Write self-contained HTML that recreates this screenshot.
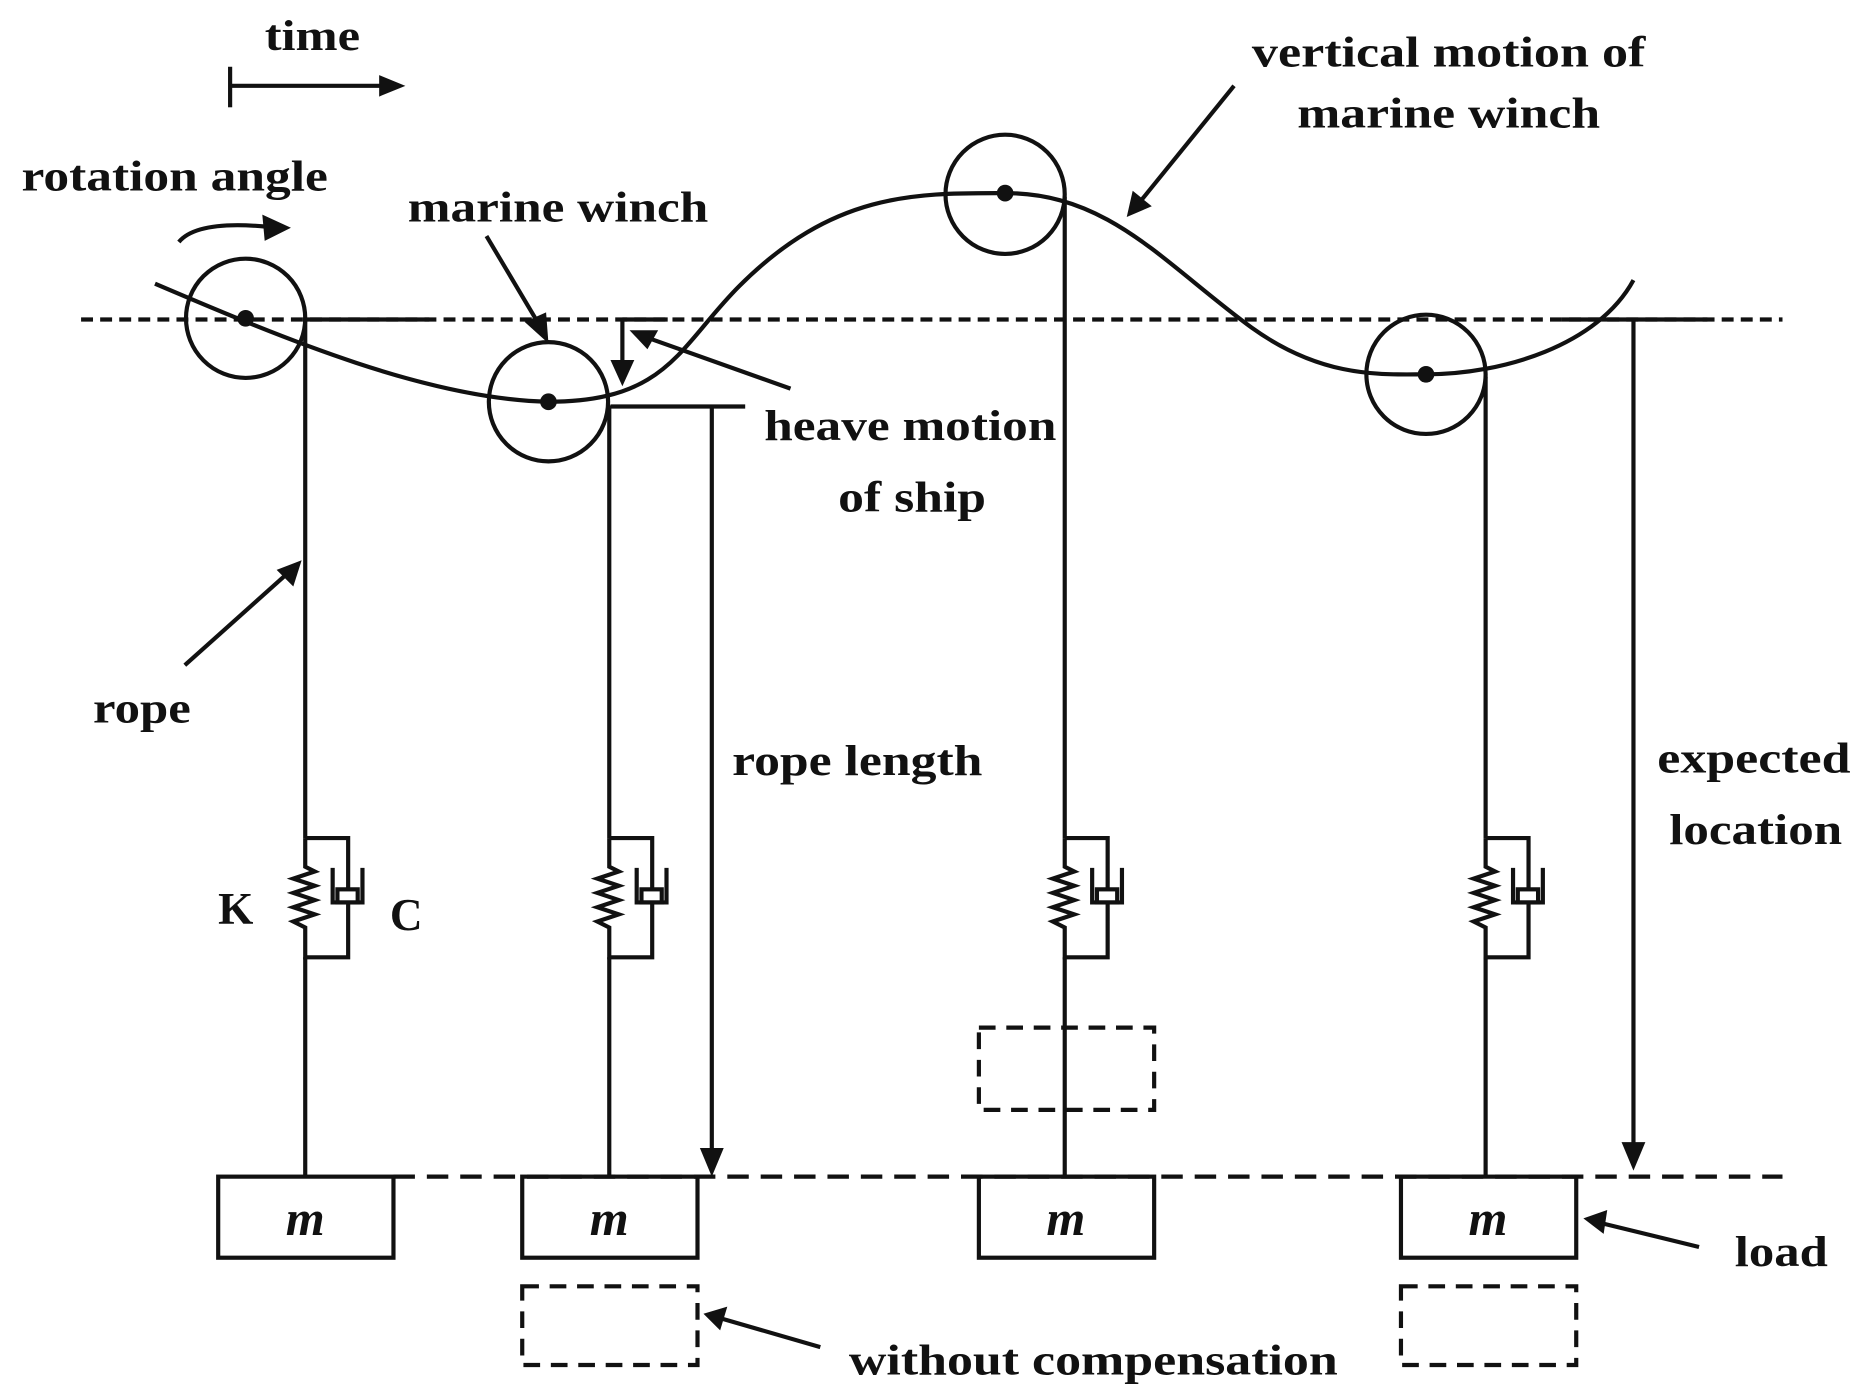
<!DOCTYPE html>
<html><head><meta charset="utf-8"><style>
html,body{margin:0;padding:0;background:#fff;}
svg{display:block;}
text{font-family:"Liberation Serif",serif;font-weight:bold;fill:#111;}
</style></head><body>
<svg width="1860" height="1396" viewBox="0 0 1560 1171" preserveAspectRatio="none" xmlns="http://www.w3.org/2000/svg">
<defs>
<marker id="ah" markerWidth="10" markerHeight="10" refX="9" refY="5" orient="auto" markerUnits="userSpaceOnUse" viewBox="0 0 10 10">
</marker>
</defs>
<g stroke="#111" stroke-width="3.5" fill="none">
<!-- dashed lines -->
<line x1="68" y1="268" x2="1495" y2="268" stroke-dasharray="10,6"/>
<line x1="330" y1="987" x2="1495" y2="987" stroke-dasharray="18,10"/>
<!-- time arrow -->
<line x1="193" y1="56" x2="193" y2="90"/>
<line x1="193" y1="72" x2="322" y2="72"/>
<!-- rotation arrow -->
<path d="M150,203 Q165,185 222,190"/>
<!-- wave curve -->
<path d="M130,238 C240,285 360,335 460,337 C560,337 570,290 620,240 C700,160 770,162 843,162 C930,162 975,220 1050,275 C1110,318 1160,314 1196,314 C1260,314 1340,290 1370,235"/>
<!-- circles -->
<circle cx="206" cy="267" r="50"/>
<circle cx="460" cy="337" r="50"/>
<circle cx="843" cy="163" r="50"/>
<circle cx="1196" cy="314" r="50"/>
<!-- solid segments on top line -->
<line x1="254" y1="268" x2="360" y2="268"/>
<line x1="522" y1="268" x2="560" y2="268"/>
<line x1="1310" y1="268" x2="1432" y2="268"/>
<line x1="512" y1="341" x2="625" y2="341"/>
<!-- ropes -->
<line x1="256" y1="268" x2="256" y2="703"/>
<line x1="256" y1="803" x2="256" y2="987"/>
<line x1="511" y1="340" x2="511" y2="703"/>
<line x1="511" y1="803" x2="511" y2="987"/>
<line x1="893" y1="165" x2="893" y2="703"/>
<line x1="893" y1="803" x2="893" y2="987"/>
<line x1="1246" y1="316" x2="1246" y2="703"/>
<line x1="1246" y1="803" x2="1246" y2="987"/>
<!-- vertical arrows -->
<line x1="522" y1="268" x2="522" y2="310"/>
<line x1="597" y1="341" x2="597" y2="965"/>
<line x1="1370" y1="268" x2="1370" y2="960"/>
<!-- pointer arrows -->
<line x1="663" y1="326" x2="545" y2="284"/>
<line x1="408" y1="198" x2="452" y2="272"/>
<line x1="1035" y1="72" x2="958" y2="167"/>
<line x1="155" y1="558" x2="240" y2="482"/>
<line x1="1425" y1="1046" x2="1343" y2="1026"/>
<line x1="688" y1="1130" x2="605" y2="1106"/>
<!-- boxes -->
<rect x="183" y="987" width="147" height="68"/>
<rect x="438" y="987" width="147" height="68"/>
<rect x="821" y="987" width="147" height="68"/>
<rect x="1175" y="987" width="147" height="68"/>
<g stroke-dasharray="14,9">
<rect x="438" y="1079" width="147" height="66"/>
<rect x="1175" y="1079" width="147" height="66"/>
<rect x="821" y="862" width="147" height="69"/>
</g>
</g>
<!-- arrowheads -->
<g fill="#111">
<polygon points="340,72 318,63 318,81"/>
<polygon points="244,191 220,180 222,202"/>
<polygon points="522,324 512,302 532,302"/>
<polygon points="597,987 587,963 607,963"/>
<polygon points="1370,982 1360,958 1380,958"/>
<polygon points="528,277 552,277 543,293"/>
<polygon points="460,288 440,270 458,262"/>
<polygon points="945,182 950,160 966,173"/>
<polygon points="253,470 232,478 246,492"/>
<polygon points="1328,1022 1348,1015 1345,1035"/>
<polygon points="590,1102 610,1096 604,1116"/>
<circle cx="206" cy="267" r="7"/>
<circle cx="460" cy="337" r="7"/>
<circle cx="843" cy="162" r="7"/>
<circle cx="1196" cy="314" r="7"/>
</g>
<!-- spring-dampers -->
<g stroke="#111" stroke-width="3.5" fill="none" id="sd">
<path d="M256,703 L292,703 L292,747 M256,703 L256,727 L264,731 L246,737 L264,743 L246,749 L264,755 L246,761 L264,767 L246,773 L256,778 L256,803 L292,803 L292,757"/>
<path d="M279,728 L279,757 L304,757 L304,728"/>
<rect x="283" y="746" width="17" height="11"/>
</g>
<use href="#sd" x="255"/>
<use href="#sd" x="637"/>
<use href="#sd" x="990"/>
<!-- texts -->
<g font-size="36">
<text x="222" y="42" textLength="80" lengthAdjust="spacingAndGlyphs">time</text>
<text x="18" y="160" textLength="257" lengthAdjust="spacingAndGlyphs">rotation angle</text>
<text x="342" y="186" textLength="252" lengthAdjust="spacingAndGlyphs">marine winch</text>
<text x="1050" y="56" textLength="330" lengthAdjust="spacingAndGlyphs">vertical motion of</text>
<text x="1088" y="107" textLength="254" lengthAdjust="spacingAndGlyphs">marine winch</text>
<text x="641" y="369" textLength="245" lengthAdjust="spacingAndGlyphs">heave motion</text>
<text x="703" y="429" textLength="124" lengthAdjust="spacingAndGlyphs">of ship</text>
<text x="78" y="606" textLength="82" lengthAdjust="spacingAndGlyphs">rope</text>
<text x="614" y="650" textLength="210" lengthAdjust="spacingAndGlyphs">rope length</text>
<text x="1390" y="648" textLength="162" lengthAdjust="spacingAndGlyphs">expected</text>
<text x="1400" y="708" textLength="145" lengthAdjust="spacingAndGlyphs">location</text>
<text x="1455" y="1062" textLength="78" lengthAdjust="spacingAndGlyphs">load</text>
<text x="712" y="1153" textLength="410" lengthAdjust="spacingAndGlyphs">without compensation</text>
<text x="183" y="775" font-weight="normal" font-size="38">K</text>
<text x="327" y="780" font-weight="normal" font-size="38">C</text>
</g>
<g font-size="42" font-style="italic" text-anchor="middle">
<text x="256" y="1036">m</text>
<text x="511" y="1036">m</text>
<text x="894" y="1036">m</text>
<text x="1248" y="1036">m</text>
</g>
</svg>
</body></html>
